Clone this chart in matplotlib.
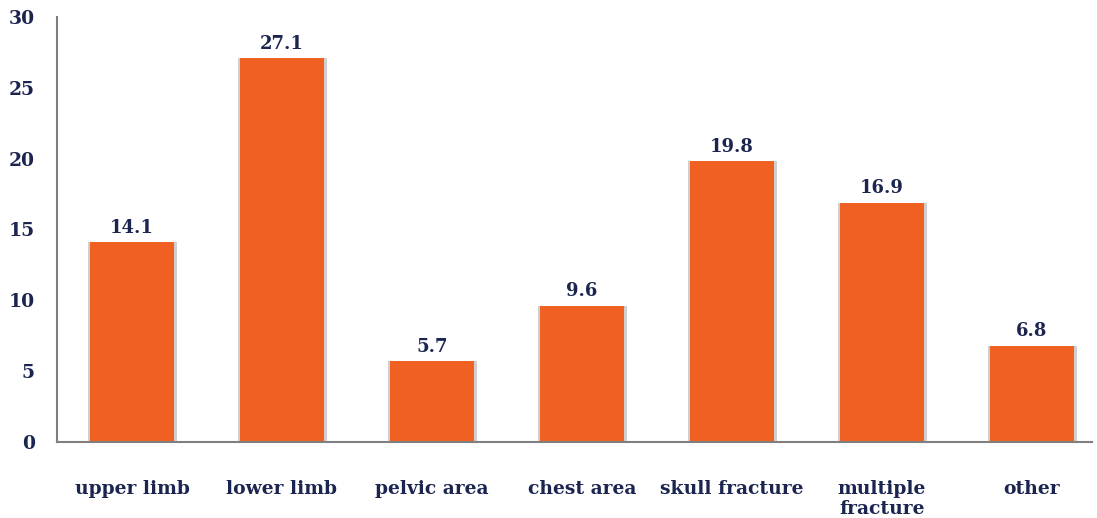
import matplotlib.pyplot as plt
from matplotlib.patches import Rectangle

categories = ['upper limb', 'lower limb', 'pelvic area', 'chest area',
              'skull fracture', 'multiple\nfracture', 'other']
values = [14.1, 27.1, 5.7, 9.6, 19.8, 16.9, 6.8]
yticks = [0, 5, 10, 15, 20, 25, 30]

bar_color = '#F06022'
text_color = '#1B2550'
plt.rcParams['font.family'] = ['DejaVu Serif']
plt.rcParams['font.weight'] = 'bold'

fig = plt.figure(figsize=(10.97, 5.18), dpi=100)
ax = fig.add_axes([57 / 1097, 76 / 518, 1035 / 1097, 425 / 518])

x = range(len(categories))
w = 0.56
# soft grey shadow on the sides of each bar
for i, v in zip(x, values):
    ax.add_patch(Rectangle((i - w / 2 - 0.014, 0), w + 0.032, v,
                           facecolor='#cfcfcf', edgecolor='none', zorder=1))
bars = ax.bar(x, values, width=w, color=bar_color, edgecolor='none', zorder=2)

for i, v in zip(x, values):
    ax.annotate(f'{v}', (i, v), xytext=(0, 4), textcoords='offset points',
                ha='center', va='bottom', fontsize=13, color=text_color,
                fontweight='bold')

ax.set_xlim(-0.5, 6.4)
ax.set_ylim(0, 30)
ax.set_yticks(yticks)
ax.set_xticks(list(x))
ax.set_xticklabels(categories, fontsize=13.5, color=text_color,
                   fontweight='bold', linespacing=1.15, va='top')
ax.tick_params(axis='x', length=0, pad=27)
ax.tick_params(axis='y', length=0, pad=16, labelsize=13.5, labelcolor=text_color)

for s in ['top', 'right']:
    ax.spines[s].set_visible(False)
for s in ['left', 'bottom']:
    ax.spines[s].set_color('#7f7f7f')
    ax.spines[s].set_linewidth(1.5)

fig.savefig('out.png', dpi=100)
